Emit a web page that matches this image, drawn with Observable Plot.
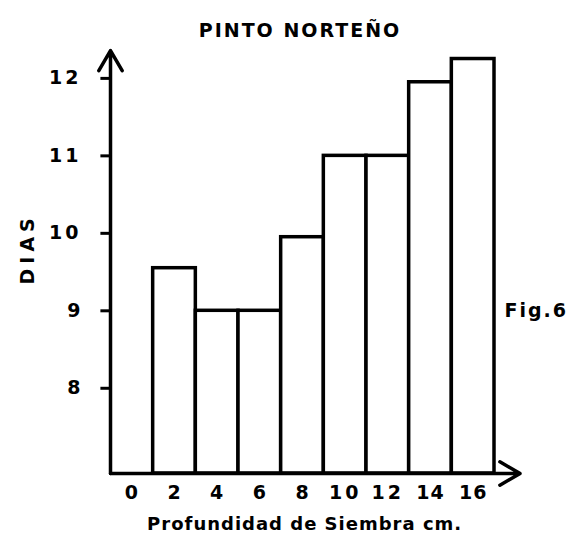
<!DOCTYPE html>
<html>
<head>
<meta charset="utf-8">
<script src="https://cdn.jsdelivr.net/npm/d3@7"></script>
<script src="https://cdn.jsdelivr.net/npm/@observablehq/plot@0.6"></script>
<style>
  body { margin: 0; background: #fff; width: 575px; height: 535px; overflow: hidden; position: relative; }
  #title { height: 42px; box-sizing: border-box; padding-top: 19px; padding-left: 25px; text-align: center;
           font: bold 19px "DejaVu Sans", sans-serif; line-height: 22px; letter-spacing: 2px; color: #000; }
</style>
</head>
<body>
<div id="title">PINTO NORTEÑO</div>
<div id="chart"></div>
<script>
const depths = [2, 4, 6, 8, 10, 12, 14, 16];
const days = [9.55, 9.0, 9.0, 9.95, 11.0, 11.0, 11.95, 12.25];
const xTicks = [0, 2, 4, 6, 8, 10, 12, 14, 16];
const yTicks = [8, 9, 10, 11, 12];
const yLabel = "DIAS";
const xLabel = "Profundidad de Siembra cm.";
const figLabel = "Fig.6";

const yMin = 6.9, yMax = 12.36;
const xMin = -1, xMax = 17;
const data = depths.map((d, i) => ({depth: d, days: days[i]}));

const chart = Plot.plot({
  width: 575,
  height: 493,
  marginLeft: 110,
  marginRight: 81,
  marginTop: 8,
  marginBottom: 62,
  style: {fontFamily: "DejaVu Sans, sans-serif", fontWeight: "bold", fontSize: "17px", color: "#000", background: "#fff", overflow: "visible"},
  x: {type: "linear", domain: [xMin, xMax], axis: null},
  y: {type: "linear", domain: [yMin, yMax], axis: null},
  marks: [
    Plot.rectY(data, {x1: d => d.depth - 1, x2: d => d.depth + 1, y1: yMin, y2: "days",
      fill: "white", stroke: "black", strokeWidth: 3.5}),
    Plot.arrow([0], {x1: xMin, x2: xMin, y1: yMin, y2: yMax, stroke: "black", strokeWidth: 3.5, headLength: 10}),
    Plot.arrow([0], {x1: xMin, x2: xMax + 1.2, y1: yMin, y2: yMin, stroke: "black", strokeWidth: 3.5, headLength: 10}),
    // y ticks and labels
    Plot.ruleY(yTicks, {y: d => d, x1: xMin - 0.45, x2: xMin, stroke: "black", strokeWidth: 3}),
    Plot.text(yTicks, {y: d => d, x: xMin, dx: -29, textAnchor: "end", text: d => String(d), fontSize: 19, fontWeight: "bold"}),
    Plot.text([yLabel], {x: xMin, y: [9.8], dx: -83, rotate: -90, fontSize: 19, fontWeight: "bold"}),
    // x tick labels and label
    Plot.text(xTicks, {x: d => d, y: yMin, dy: 19, text: d => String(d), fontSize: 19, fontWeight: "bold"}),
    Plot.text([xLabel], {x: [8.1], y: yMin, dy: 51, fontSize: 18, fontWeight: "bold"}),
    Plot.text([figLabel], {frameAnchor: "right", y: [9.0], dx: 10, textAnchor: "start", fontSize: 19, fontWeight: "bold"})
  ]
});
document.getElementById("chart").appendChild(chart);
// letter spacing to match the wide hand lettering
d3.select(chart).selectAll("text").each(function() {
  const t = this.textContent;
  let ls = 1;
  if (t === yLabel) ls = 5;
  else if (t === figLabel) ls = 2;
  else if (t === "10" || t === "11" || t === "12") ls = 3;
  d3.select(this).style("letter-spacing", ls + "px");
});
</script>
</body>
</html>
